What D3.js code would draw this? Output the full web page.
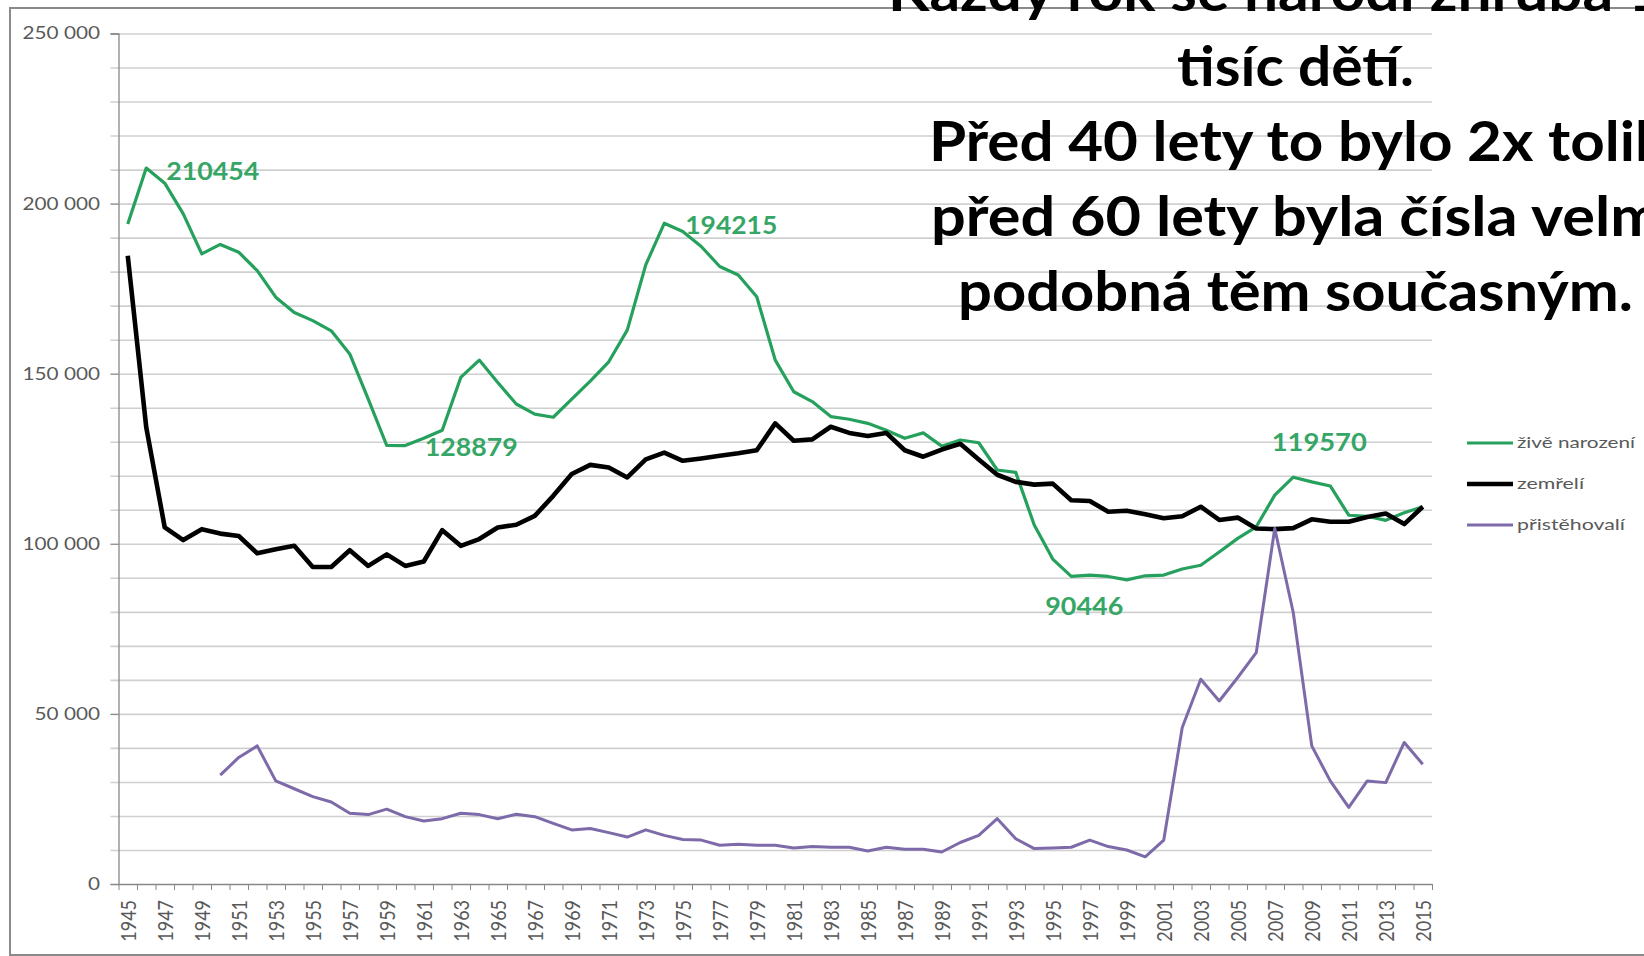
<!DOCTYPE html>
<html>
<head>
<meta charset="utf-8">
<script src="https://cdnjs.cloudflare.com/ajax/libs/d3/7.8.5/d3.min.js"></script>
<style>
    html, body { margin: 0; padding: 0; background: #fff; overflow: hidden; }
    svg { display: block; }
</style>
</head>
<body>
<svg id="chart"></svg>
<script>
// roky 1945 - 2015
var years = [1945, 1946, 1947, 1948, 1949,
    1950, 1951, 1952, 1953, 1954, 1955, 1956, 1957, 1958, 1959,
    1960, 1961, 1962, 1963, 1964, 1965, 1966, 1967, 1968, 1969,
    1970, 1971, 1972, 1973, 1974, 1975, 1976, 1977, 1978, 1979,
    1980, 1981, 1982, 1983, 1984, 1985, 1986, 1987, 1988, 1989,
    1990, 1991, 1992, 1993, 1994, 1995, 1996, 1997, 1998, 1999,
    2000, 2001, 2002, 2003, 2004, 2005, 2006, 2007, 2008, 2009,
    2010, 2011, 2012, 2013, 2014, 2015];

var births = [194000, 210454, 206000, 197000, 185200,
    188000, 185700, 180300, 172500, 168000, 165600, 162600, 155800, 142500, 128900,
    128879, 131000, 133400, 148900, 154000, 147400, 141100, 138100, 137200, 142500,
    147800, 153500, 162800, 182000, 194215, 191800, 187400, 181500, 179000, 172600,
    154000, 144700, 141800, 137400, 136600, 135400, 133400, 131000, 132600, 128700,
    130500, 129700, 121700, 121000, 105500, 95500, 90446, 90800, 90400, 89400,
    90600, 90800, 92600, 93700, 97600, 101600, 105000, 114300, 119570, 118200,
    117000, 108400, 108100, 106900, 109100, 110900];

var deaths = [184700, 134200, 104800, 101100, 104300,
    103000, 102300, 97200, 98400, 99400, 93200, 93200, 98100, 93500, 96900,
    93500, 94800, 104000, 99400, 101400, 104800, 105600, 108200, 114100, 120500,
    123200, 122400, 119500, 124800, 126800, 124400, 125100, 125900, 126600, 127500,
    135400, 130300, 130700, 134400, 132600, 131700, 132600, 127500, 125600, 127700,
    129400, 124800, 120300, 118200, 117400, 117700, 112800, 112600, 109400, 109700,
    108700, 107500, 108100, 110900, 107000, 107700, 104500, 104300, 104600, 107200,
    106500, 106500, 107900, 108900, 105800, 110900];

var immigrants = [null, null, null, null, null,
    32000, 37200, 40600, 30300, 28000, 25700, 24100, 20800, 20400, 22000,
    19800, 18500, 19200, 20800, 20400, 19200, 20500, 19800, 17800, 15900,
    16300, 15100, 13800, 15900, 14300, 13100, 12900, 11400, 11700, 11400,
    11400, 10600, 11000, 10800, 10800, 9700, 10800, 10200, 10200, 9400,
    12200, 14300, 19200, 13300, 10400, 10600, 10800, 12900, 11000, 10000,
    8000, 12900, 46000, 60200, 53800, 60700, 68000, 104500, 79800, 40600,
    30300, 22500, 30300, 29800, 41600, 35200];

var seriesNames = ["živě narození", "zemřelí", "přistěhovalí"];
var yTicks = [0, 50000, 100000, 150000, 200000, 250000];
var xTickLabels = [1945, 1947, 1949, 1951, 1953, 1955, 1957, 1959, 1961, 1963,
    1965, 1967, 1969, 1971, 1973, 1975, 1977, 1979, 1981, 1983, 1985, 1987,
    1989, 1991, 1993, 1995, 1997, 1999, 2001, 2003, 2005, 2007, 2009, 2011, 2013, 2015];
var labelYears = [1946, 1960, 1974, 1996, 2008];

var titleLines = ["Každý rok se narodí zhruba 110",
    "tisíc dětí.",
    "Před 40 lety to bylo 2x tolik,",
    "před 60 lety byla čísla velmi",
    "podobná těm současným."];

// --- vzhled ---
var W = 1644, H = 956;
var plot = {left: 118.5, right: 1432, top: 33.5, bottom: 884};
var colors = ["#25a05d", "#000000", "#7d6aa8"];
var widths = [3.2, 4.6, 3];
var font = "Lato, 'Open Sans', sans-serif";
var axisGrey = "#595959";
var stretch = 1.22;   // obrazek grafu je roztazeny do sirky

var svg = d3.select("#chart")
    .attr("width", W)
    .attr("height", H)
    .style("font-family", font);

// ramecek
svg.append("rect")
    .attr("x", 10)
    .attr("y", 8)
    .attr("width", 1700)
    .attr("height", 947)
    .attr("fill", "none")
    .attr("stroke", "#8a8a8a")
    .attr("stroke-width", 2);

var x = d3.scalePoint()
    .domain(years)
    .range([plot.left, plot.right])
    .padding(0.5);

var y = d3.scaleLinear()
    .domain([0, 250000])
    .range([plot.bottom, plot.top]);

// mrizka
var grid = svg.append("g")
    .attr("transform", "translate(" + plot.left + ",0)")
    .call(d3.axisLeft(y)
        .tickValues(d3.range(10000, 250001, 10000))
        .tickSizeInner(-(plot.right - plot.left))
        .tickSizeOuter(0)
        .tickFormat(""));
grid.select(".domain").remove();
grid.selectAll(".tick line")
    .attr("x1", -8)
    .attr("stroke", "#d0d0d0")
    .attr("stroke-width", 1.6);

// osa y
var yAxis = svg.append("g")
    .attr("transform", "translate(" + plot.left + ",0)")
    .call(d3.axisLeft(y)
        .tickValues(yTicks)
        .tickSize(8)
        .tickPadding(10.5)
        .tickFormat(function (d) {
            return d3.format(",")(d).replace(/,/g, "\u00a0");
        }));
yAxis.select(".domain")
    .attr("stroke", "#878787")
    .attr("stroke-width", 1.3);
yAxis.selectAll(".tick line").attr("stroke", "#878787");
yAxis.selectAll("text")
    .attr("fill", axisGrey)
    .style("font-size", "17px")
    .style("font-family", font)
    .each(function () {
        this.setAttribute("textLength", this.getComputedTextLength() * stretch);
        this.setAttribute("lengthAdjust", "spacingAndGlyphs");
    });

// osa x - carky mezi kategoriemi
var xb = d3.scaleLinear().domain([0, years.length]).range([plot.left, plot.right]);
var xTicksAxis = svg.append("g")
    .attr("transform", "translate(0," + plot.bottom + ")")
    .call(d3.axisBottom(xb)
        .tickValues(d3.range(years.length + 1))
        .tickSize(6)
        .tickSizeOuter(0)
        .tickFormat(""));
xTicksAxis.select(".domain")
    .attr("stroke", "#878787")
    .attr("stroke-width", 1.3);
xTicksAxis.selectAll(".tick line").attr("stroke", "#878787");

// osa x - popisky
var xAxis = svg.append("g")
    .attr("transform", "translate(0," + plot.bottom + ")")
    .call(d3.axisBottom(x)
        .tickValues(xTickLabels)
        .tickSize(0));
xAxis.select(".domain").remove();
xAxis.selectAll("text")
    .attr("fill", axisGrey)
    .style("font-size", "18px")
    .style("font-family", font)
    .attr("text-anchor", "end")
    .attr("x", -16)
    .attr("y", 0)
    .attr("dy", "0.36em")
    .attr("transform", "rotate(-90) scale(1," + stretch + ")");

// krivky
var series = [births, deaths, immigrants];
var line = d3.line()
    .defined(function (d) { return d != null; })
    .x(function (d, i) { return x(years[i]); })
    .y(function (d) { return y(d); });

svg.append("g")
    .selectAll("path")
    .data(series)
    .enter()
    .append("path")
    .attr("d", line)
    .attr("fill", "none")
    .attr("stroke", function (d, i) { return colors[i]; })
    .attr("stroke-width", function (d, i) { return widths[i]; })
    .attr("stroke-linejoin", "round");

// popisky hodnot
var labelPlace = [
    {dx: 20, dy: 3, anchor: "start", w: 93},
    {dx: 19.5, dy: 2, anchor: "start", w: 93},
    {dx: 21, dy: 2, anchor: "start", w: 92},
    {dx: 13, dy: 30, anchor: "middle", w: 78},
    {dx: 26, dy: -35, anchor: "middle", w: 95}
];
svg.append("g")
    .selectAll("text")
    .data(labelYears)
    .enter()
    .append("text")
    .attr("x", function (d, i) { return x(d) + labelPlace[i].dx; })
    .attr("y", function (d, i) { return y(births[years.indexOf(d)]) + labelPlace[i].dy; })
    .attr("dy", "0.36em")
    .attr("text-anchor", function (d, i) { return labelPlace[i].anchor; })
    .attr("fill", "#36a667")
    .style("font-size", "24px")
    .style("font-weight", "bold")
    .attr("textLength", function (d, i) { return labelPlace[i].w; })
    .attr("lengthAdjust", "spacingAndGlyphs")
    .text(function (d) { return births[years.indexOf(d)]; });

// legenda
var legend = svg.append("g")
    .selectAll("g")
    .data(seriesNames)
    .enter()
    .append("g")
    .attr("transform", function (d, i) { return "translate(1467," + (443 + i * 41) + ")"; });
legend.append("line")
    .attr("x1", 0)
    .attr("x2", 46)
    .attr("stroke", function (d, i) { return colors[i]; })
    .attr("stroke-width", function (d, i) { return widths[i]; });
var legendW = [118, 67, 108];
legend.append("text")
    .attr("x", 50)
    .attr("dy", "0.3em")
    .attr("fill", axisGrey)
    .style("font-size", "16px")
    .attr("textLength", function (d, i) { return legendW[i]; })
    .attr("lengthAdjust", "spacingAndGlyphs")
    .text(function (d) { return d; });

// nadpis (pres graf)
var titlePlace = [
    {x: 888, upto: 27, w: 740},
    {x: 1177, upto: null, w: 237},
    {x: 929, upto: 24, w: 619},
    {x: 931, upto: 24, w: 600},
    {x: 958, upto: null, w: 675}
];
svg.append("g")
    .selectAll("text")
    .data(titleLines)
    .enter()
    .append("text")
    .attr("x", function (d, i) { return titlePlace[i].x; })
    .attr("y", function (d, i) { return 11 + i * 75; })
    .attr("fill", "#000")
    .style("font-size", "56px")
    .style("font-weight", "bold")
    .text(function (d) { return d; })
    .each(function (d, i) {
        var p = titlePlace[i];
        var n = p.upto == null ? this.getNumberOfChars() : p.upto;
        var part = this.getSubStringLength(0, n);
        var full = this.getComputedTextLength();
        this.setAttribute("textLength", full * p.w / part);
        this.setAttribute("lengthAdjust", "spacingAndGlyphs");
    });
</script>
</body>
</html>
